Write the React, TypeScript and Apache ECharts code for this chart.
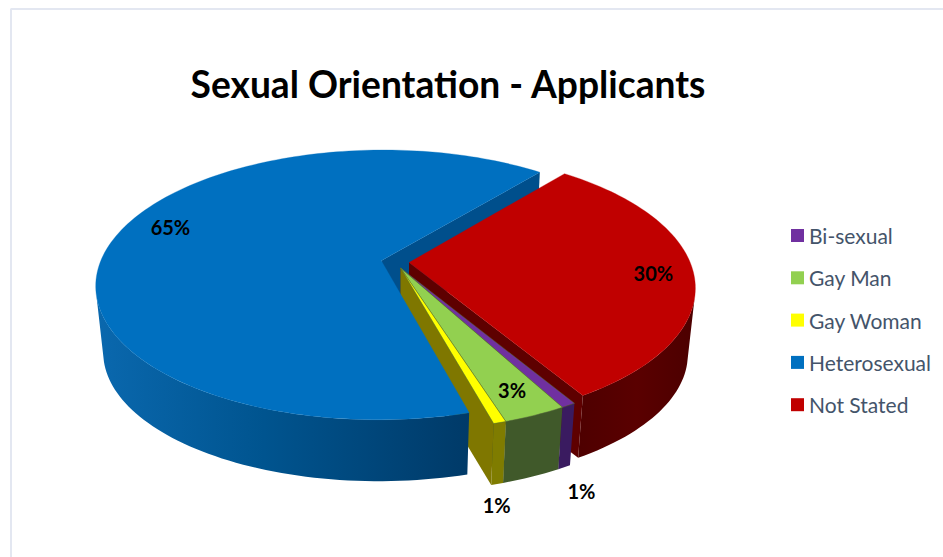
import React, { useEffect, useRef } from "react";
import * as echarts from "echarts";

const TITLE = "Sexual Orientation - Applicants";
const CATEGORIES = ["Bi-sexual", "Gay Man", "Gay Woman", "Heterosexual", "Not Stated"];
const VALUES = [0.7, 3.0, 0.6, 65.3, 30.4];
const TOP_COLORS = ["#7030a0", "#92d050", "#ffff00", "#0070c0", "#c00000"];
const RIM_COLORS = ["#3a1b60", "#40592a", "#7f7c00", "#00467c", "#560000"];
const CUT_COLORS = ["#3a1b60", "#40592a", "#7f7700", "#004f8c", "#5e0000"];

// Projection of the tilted pie
const CX = 395, CY = 262, RX = 281, RY = 131, PERSP = 0.18;
const BASE_SCALE_X = 0.975, BASE_SCALE_Y = 0.965, BASE_DROP = 67, START_DEG = 59;
const EXPLODE = 0.05;
// paint order per slice: [radial cut z2, rim z2, top z2]
const Z_ORDER = [
  [20, 20, 21],
  [22, 22, 23],
  [24, 24, 25],
  [1, 30, 31],
  [10, 10, 11],
];
// Silhouette angles where a rim stops turning towards the viewer
const RIM_LIMIT_FROM = [null, null, null, null, 375];
const RIM_LIMIT_TO = [null, null, null, 165, null];
const LABEL_SHIFT = [
  [13, 86],
  [-23, -25],
  [-3, 82],
  [25, -10],
  [-17, 1],
];
const LABEL_RADIUS = [1, 1, 1, 0.89, 0.92];

const total = VALUES.reduce((a, b) => a + b, 0);
const rad = (d: number) => (d * Math.PI) / 180;

function sliceAngles(i: number) {
  let a = START_DEG;
  for (let k = 0; k < i; k++) a += (VALUES[k] / total) * 360;
  return [a, a + (VALUES[i] / total) * 360];
}

function project(X: number, Z: number, base: boolean) {
  const s = 1 / (1 - PERSP * Z);
  const x = RX * X * s;
  const y = RY * Z * s;
  return base
    ? [CX + BASE_SCALE_X * x, CY + BASE_SCALE_Y * y + BASE_DROP]
    : [CX + x, CY + y];
}

function renderSlice(i: number, api: any) {
  const value = api.value(0);
  const [a0, a1] = sliceAngles(i);
  const mid = (a0 + a1) / 2;
  // The three thin wedges are pulled out as one block, along their shared bisector.
  const pullDeg = i < 3 ? (sliceAngles(0)[0] + sliceAngles(2)[1]) / 2 : mid;
  const ex = EXPLODE * Math.cos(rad(pullDeg));
  const ez = EXPLODE * Math.sin(rad(pullDeg));
  const pt = (deg: number, r: number, base: boolean) =>
    project(ex + r * Math.cos(rad(deg)), ez + r * Math.sin(rad(deg)), base);
  const arc = (from: number, to: number, base: boolean) => {
    const n = Math.max(2, Math.ceil(Math.abs(to - from) / 1.5));
    const out: number[][] = [];
    for (let k = 0; k <= n; k++) out.push(pt(from + ((to - from) * k) / n, 1, base));
    return out;
  };
  const [zCut, zRim, zTop] = Z_ORDER[i];
  const children: any[] = [];

  // Rim: only the part that turns to the viewer
  const rimFrom = RIM_LIMIT_FROM[i] ?? a0;
  const rimTo = RIM_LIMIT_TO[i] ?? a1;
  let rimFill: any = RIM_COLORS[i];
  if (i === 3) {
    rimFill = new echarts.graphic.LinearGradient(0, 0, 1, 0, [
      { offset: 0, color: "#0a68ae" },
      { offset: 0.45, color: "#00548f" },
      { offset: 1, color: "#003a68" },
    ]);
  }
  if (i === 4) {
    rimFill = new echarts.graphic.LinearGradient(0, 0, 1, 0, [
      { offset: 0, color: "#4e0000" },
      { offset: 0.5, color: "#5a0000" },
      { offset: 1, color: "#4c0000" },
    ]);
  }
  children.push({
    type: "polygon",
    z2: zRim,
    shape: { points: [...arc(rimFrom, rimTo, false), ...arc(rimTo, rimFrom, true)] },
    style: { fill: rimFill },
  });

  // Radial cut that faces the viewer: always the wedge's clockwise-most edge
  const apexT = project(ex, ez, false);
  const apexB = project(ex, ez, true);
  children.push({
    type: "polygon",
    z2: zCut,
    shape: { points: [apexT, pt(a1, 1, false), pt(a1, 1, true), apexB] },
    style: { fill: CUT_COLORS[i] },
  });

  // Top face
  children.push({
    type: "polygon",
    z2: zTop,
    shape: { points: [apexT, ...arc(a0, a1, false)] },
    style: {
      fill: TOP_COLORS[i],
      stroke: i < 3 ? "#55702e" : TOP_COLORS[i],
      lineWidth: i < 3 ? 0.5 : 0.3,
    },
  });

  // Percentage label
  const anchor = pt(mid, LABEL_RADIUS[i], false);
  children.push({
    type: "text",
    z2: 100,
    style: {
      text: `${Math.round(value)}%`,
      x: anchor[0] + LABEL_SHIFT[i][0],
      y: anchor[1] + LABEL_SHIFT[i][1],
      fill: "#000000",
      fontFamily: "Lato",
      fontWeight: "bold",
      fontSize: 20,
      textAlign: "center",
      textVerticalAlign: "middle",
    },
  });
  return { type: "group", children };
}

export default function App() {
  const ref = useRef<HTMLDivElement>(null);
  useEffect(() => {
    document.body.style.margin = "0";
    const chart = echarts.init(ref.current!, null, { renderer: "svg" });
    chart.setOption({
      animation: false,
      backgroundColor: "#ffffff",
      title: {
        text: TITLE,
        left: 443,
        top: 60,
        textAlign: "center",
        textStyle: { fontFamily: "Lato", fontWeight: "bold", fontSize: 37.2, color: "#000000" },
      },
      legend: {
        orient: "vertical",
        left: 786,
        top: 220,
        icon: "rect",
        itemWidth: 13,
        itemHeight: 13,
        itemGap: 21.3,
        data: CATEGORIES,
        selectedMode: false,
        textStyle: { fontFamily: "Lato", fontSize: 21, color: "#44546a" },
      },
      graphic: [
        { type: "line", shape: { x1: 10.5, y1: 9, x2: 943, y2: 9 }, style: { stroke: "#e3e7f1", lineWidth: 2 } },
        { type: "line", shape: { x1: 11, y1: 9, x2: 11, y2: 557 }, style: { stroke: "#e3e7f1", lineWidth: 2 } },
      ],
      series: CATEGORIES.map((name, i) => ({
        type: "custom",
        name,
        coordinateSystem: "none",
        silent: true,
        itemStyle: { color: TOP_COLORS[i] },
        data: [[VALUES[i]]],
        renderItem: (_p: any, api: any) => renderSlice(i, api),
      })),
    });
    return () => chart.dispose();
  }, []);
  return (
    <div
      ref={ref}
      style={{ position: "absolute", left: 0, top: 0, width: 943, height: 557 }}
    />
  );
}
